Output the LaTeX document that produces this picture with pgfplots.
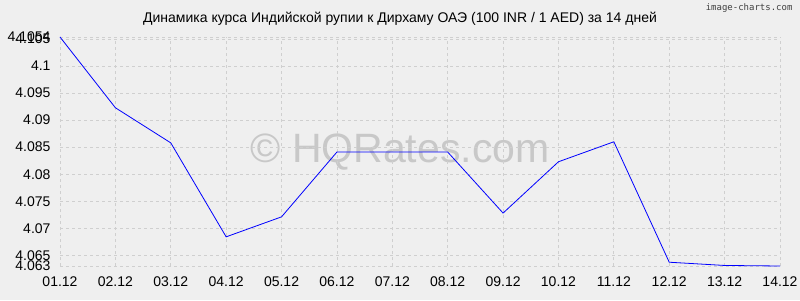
\documentclass[border=0pt]{standalone}
\usepackage{pgfplots}
\pgfplotsset{compat=1.18}
\usepackage{fontspec}
\setmainfont{Liberation Sans}
\newfontfamily\monofont{DejaVu Sans Mono}
\definecolor{bg}{HTML}{EFEFEF}
\definecolor{gridc}{HTML}{CFCFCF}
\definecolor{wm}{HTML}{C8C8C8}
\begin{document}
\begin{tikzpicture}[x=1pt,y=1pt]
\fill[bg] (0,0) rectangle (800,300);
\node[text=wm,font=\fontsize{41}{41}\selectfont] at (400,148) {© HQRates.com};
\begin{axis}[
  at={(60pt,34pt)}, anchor=south west,
  scale only axis, width=720pt, height=229pt,
  xmin=0, xmax=13, ymin=4.063, ymax=4.1054,
  xtick={0,...,13},
  xticklabels={01.12,02.12,03.12,04.12,05.12,06.12,07.12,08.12,09.12,10.12,11.12,12.12,13.12,14.12},
  ytick={4.063,4.065,4.07,4.075,4.08,4.085,4.09,4.095,4.1,4.105,4.1054},
  yticklabels={4.063,4.065,4.07,4.075,4.08,4.085,4.09,4.095,4.1,4.105,4.1054},
  tick label style={font=\fontsize{14}{14}\selectfont},
  xticklabel style={yshift=-7pt},
  yticklabel style={xshift=-6pt},
  major tick length=0pt,
  grid=major,
  major grid style={gridc, dashed, line width=0.8pt},
  axis line style={draw=none},
  clip=false,
]
\addplot[blue, line width=0.8pt, mark=none] coordinates {
(0,4.1054) (1,4.0923) (2,4.0858) (3,4.0684) (4,4.0721) (5,4.0841) (6,4.0841)
(7,4.0841) (8,4.0728) (9,4.0823) (10,4.0860) (11,4.0637) (12,4.0631) (13,4.0630)
};
\end{axis}
\node[font=\fontsize{14}{14}\selectfont] at (400,281) {Динамика курса Индийской рупии к Дирхаму ОАЭ (100 INR / 1 AED) за 14 дней};
\node[font=\monofont\fontsize{9}{9}\selectfont, anchor=east, text=black!75] at (796,292) {image-charts.com};
\pgfresetboundingbox
\path (0,0) rectangle (800,300);
\end{tikzpicture}
\end{document}
